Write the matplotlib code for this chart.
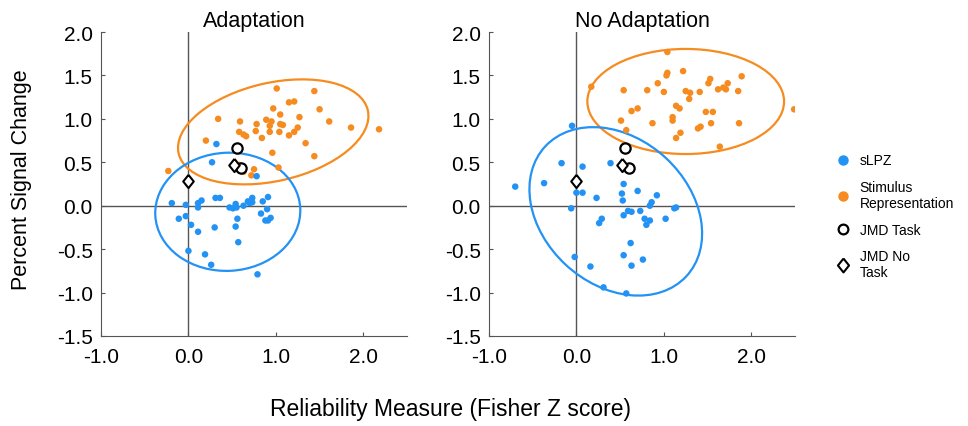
import matplotlib
matplotlib.use("Agg")
import matplotlib.pyplot as plt
from matplotlib.patches import Ellipse
from matplotlib.lines import Line2D

plt.rcParams['font.family'] = ['Liberation Sans', 'DejaVu Sans']

BLUE = "#2392F5"
ORANGE = "#F68B1F"
GREY = "#555555"

# ---- Adaptation panel ----
adapt_orange_x = [1.01, 1.44, 1.15, 1.21, 0.97, 1.50, 1.05, 1.27, 0.34, 0.59, 0.89, 0.95, 0.78,
                  1.05, 0.93, 1.08, 1.61, 1.86, 2.18, 1.25, 0.77, 0.93, 1.04, 1.21, 1.15, 0.58,
                  0.63, 0.66, 0.84, 0.20, 1.34, 0.96, 1.44, 1.03, 0.75, 0.58, 0.63, 0.72, -0.23]
adapt_orange_y = [1.35, 1.32, 1.19, 1.20, 1.12, 1.11, 1.05, 1.02, 1.00, 0.97, 0.99, 0.97, 0.94,
                  0.94, 0.92, 0.93, 0.97, 0.90, 0.88, 0.90, 0.86, 0.85, 0.85, 0.85, 0.81, 0.85,
                  0.82, 0.80, 0.78, 0.75, 0.72, 0.61, 0.57, 0.44, 0.42, 0.47, 0.39, 0.35, 0.40]
adapt_blue_x = [0.32, 0.27, 0.78, -0.19, -0.03, 0.11, 0.15, 0.11, 0.31, 0.36, 0.47, 0.51, 0.54,
                0.55, 0.63, 0.68, 0.70, 0.73, 0.73, 0.85, 0.91, 0.90, 0.83, 0.94, 0.91, 0.88,
                -0.11, -0.03, 0.03, 0.11, 0.30, 0.56, 0.54, 0.57, 0.00, 0.19, 0.26, 0.79]
adapt_blue_y = [0.71, 0.50, 0.34, 0.03, 0.01, 0.03, 0.06, -0.02, 0.09, 0.09, -0.02, -0.03, 0.02,
                -0.02, 0.00, 0.05, 0.03, 0.09, 0.04, 0.05, 0.10, -0.04, -0.09, -0.14, -0.17, -0.17,
                -0.15, -0.12, -0.22, -0.30, -0.25, -0.15, -0.24, -0.42, -0.52, -0.56, -0.68, -0.79]
adapt_task_x = [0.56, 0.60]
adapt_task_y = [0.66, 0.43]
adapt_notask_x = [0.52, -0.01]
adapt_notask_y = [0.47, 0.28]

# ---- No Adaptation panel ----
noadapt_orange_x = [1.04, 1.03, 1.04, 1.22, 0.93, 1.53, 1.51, 1.73, 1.89, 0.17, 0.54, 0.81, 1.00,
                    1.25, 1.30, 1.41, 1.62, 1.68, 1.71, 1.85, 1.29, 0.70, 0.63, 1.14, 1.18, 1.48,
                    1.56, 2.49, 1.10, 1.10, 0.51, 0.87, 1.54, 1.86, 1.42, 1.39, 0.57, 1.19, 1.14, 1.64]
noadapt_orange_y = [1.77, 1.50, 1.53, 1.55, 1.41, 1.46, 1.41, 1.41, 1.49, 1.37, 1.33, 1.33, 1.31,
                    1.32, 1.30, 1.31, 1.34, 1.36, 1.34, 1.32, 1.23, 1.12, 1.09, 1.15, 1.12, 1.08,
                    1.08, 1.11, 1.02, 0.98, 0.98, 0.95, 0.95, 0.95, 0.91, 0.89, 0.87, 0.84, 0.78, 0.68]
noadapt_blue_x = [-0.05, -0.17, 0.07, 0.39, -0.70, -0.37, 0.00, 0.07, 0.23, -0.06, 0.54, 0.52, 0.53,
                  0.70, 0.92, 0.86, 0.84, 1.12, 1.14, 0.59, 0.63, 0.73, 0.54, 0.78, 0.80, 0.84,
                  1.02, 0.29, 0.26, 0.62, -0.02, 0.54, 0.63, 0.76, 0.16, 0.31, 0.57]
noadapt_blue_y = [0.92, 0.49, 0.45, 0.49, 0.22, 0.26, 0.15, 0.15, 0.09, -0.03, 0.25, 0.14, 0.06,
                  0.17, 0.12, 0.04, 0.00, -0.03, -0.02, -0.06, -0.07, -0.06, -0.11, -0.15, -0.22, -0.17,
                  -0.15, -0.15, -0.20, -0.43, -0.59, -0.57, -0.69, -0.62, -0.70, -0.94, -1.01]
noadapt_task_x = [0.55, 0.60]
noadapt_task_y = [0.66, 0.43]
noadapt_notask_x = [0.52, -0.01]
noadapt_notask_y = [0.47, 0.28]

# ellipses: (center x, center y, width, height, angle)
adapt_ellipses = [(0.97, 0.85, 2.22, 1.13, 13, ORANGE), (0.45, -0.07, 1.66, 1.36, 3, BLUE)]
noadapt_ellipses = [(1.25, 1.20, 2.25, 1.21, 0, ORANGE), (0.45, -0.065, 2.2, 1.68, -43, BLUE)]

xticks = [-1.0, 0.0, 1.0, 2.0]
yticks = [2.0, 1.5, 1.0, 0.5, 0.0, -0.5, -1.0, -1.5]

# diamond a bit taller than wide
diamond = [(0, 1), (0.8, 0), (0, -1), (-0.8, 0), (0, 1)]

fig = plt.figure(figsize=(9.68, 4.27), dpi=100)
ax1 = fig.add_axes([101 / 968, 90 / 427, 306 / 968, 304 / 427])
ax2 = fig.add_axes([489 / 968, 90 / 427, 306 / 968, 304 / 427])

panels = [
    (ax1, "Adaptation", adapt_orange_x, adapt_orange_y, adapt_blue_x, adapt_blue_y,
     adapt_task_x, adapt_task_y, adapt_notask_x, adapt_notask_y, adapt_ellipses),
    (ax2, "No Adaptation", noadapt_orange_x, noadapt_orange_y, noadapt_blue_x, noadapt_blue_y,
     noadapt_task_x, noadapt_task_y, noadapt_notask_x, noadapt_notask_y, noadapt_ellipses),
]

for ax, title, ox, oy, bx, by, tx, ty, nx, ny, ells in panels:
    ax.axvline(0, color=GREY, lw=1, zorder=1)
    ax.axhline(0, color=GREY, lw=1, zorder=1)
    ax.scatter(ox, oy, s=22, color=ORANGE, edgecolor="none", zorder=3)
    ax.scatter(bx, by, s=22, color=BLUE, edgecolor="none", zorder=3)
    for cx, cy, w, h, ang, col in ells:
        ax.add_patch(Ellipse((cx, cy), w, h, angle=ang, fill=False, edgecolor=col, lw=1.6, zorder=2))
    ax.scatter(tx, ty, s=55, facecolor="white", edgecolor="black", lw=1.6, marker="o", zorder=4)
    ax.scatter(nx, ny, s=90, facecolor="white", edgecolor="black", lw=1.5, marker=diamond, zorder=4)
    ax.set_xlim(-1.0, 2.5)
    ax.set_ylim(-1.5, 2.0)
    ax.set_xticks(xticks)
    ax.set_xticklabels([f"{v:.1f}" for v in xticks])
    ax.set_yticks(yticks)
    ax.set_yticklabels([f"{v:.1f}" for v in yticks])
    ax.tick_params(direction="in", length=3, color=GREY, labelsize=15)
    ax.tick_params(axis="x", pad=8)
    ax.tick_params(axis="y", pad=6)
    for s in ["top", "right"]:
        ax.spines[s].set_visible(False)
    for s in ["left", "bottom"]:
        ax.spines[s].set_color(GREY)
    ax.text(0.5, 1 + 6 / 304, title, transform=ax.transAxes, fontsize=15.5,
            ha="center", va="baseline")

fig.text(22 / 968, 1 - 180 / 427, "Percent Signal Change", rotation=90, fontsize=15.5,
         ha="center", va="center")
fig.text(450 / 968, 1 - 410 / 427, "Reliability Measure (Fisher Z score)", fontsize=16.5,
         ha="center", va="center")

handles = [
    Line2D([], [], marker="o", ls="", color=BLUE, markersize=6.5),
    Line2D([], [], marker="o", ls="", color=ORANGE, markersize=6.5),
    Line2D([], [], marker="o", ls="", mfc="white", mec="black", mew=1.6, markersize=7),
    Line2D([], [], marker=diamond, ls="", mfc="white", mec="black", mew=1.5, markersize=10),
]
labels = ["sLPZ", "Stimulus\nRepresentation", "JMD Task", "JMD No\nTask"]
fig.legend(handles, labels, loc="upper left", bbox_to_anchor=(822 / 968, 1 - 142 / 427),
           frameon=False, fontsize=10, handletextpad=0.6, labelspacing=0.9, handlelength=1.2)

fig.savefig("out.png", dpi=100)
